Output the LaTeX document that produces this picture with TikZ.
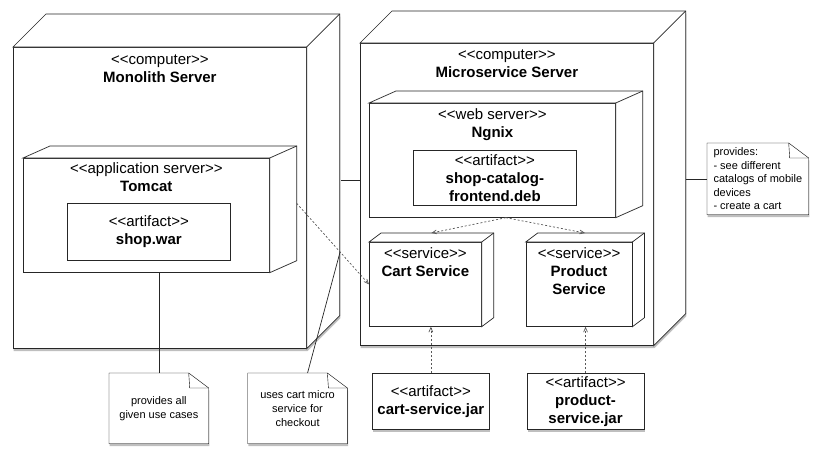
\documentclass[tikz,border=0pt]{standalone}
\usepackage{fontspec}
\newfontfamily\umlfont{Liberation Sans}
\usetikzlibrary{arrows,calc,shadows,backgrounds,positioning}

\newcommand\st[1]{<<#1>>}

\tikzset{
  front/.style={draw, fill=white, anchor=north west, inner sep=0pt},
  title/.style={anchor=north, align=center, inner sep=0pt, font=\umlfont\fontsize{15}{18}\selectfont},
  artifact/.style={draw, fill=white, anchor=north west, inner sep=0pt, align=center,
    font=\umlfont\fontsize{15}{18}\selectfont},
  note/.style={anchor=north west, inner sep=0pt, align=center, font=\umlfont\fontsize{11}{14}\selectfont},
  castshadow/.style={drop shadow={shadow xshift=0.6pt, shadow yshift=-2.5pt, opacity=0.5}},
  depends/.style={->, gray!70!black, dash pattern=on 2pt off 2pt},
}

% top and right face of a node box
\newcommand\cubeside[3]{
  \begin{scope}[on background layer]
    \fill[white, castshadow] (#1.south west) -- (#1.north west) -- ++(#2,#3)
      -- ([shift={(#2,#3)}]#1.north east) -- ([shift={(#2,#3)}]#1.south east) -- (#1.south east) -- cycle;
  \end{scope}
  \filldraw[fill=white] (#1.north west) -- ++(#2,#3) -- ([shift={(#2,#3)}]#1.north east)
    -- ([shift={(#2,#3)}]#1.south east) -- (#1.south east) -- (#1.north east) -- cycle;
  \draw (#1.north east) -- ++(#2,#3);
}

% note outline with folded corner
\newcommand\notefold[1]{
  \begin{scope}[on background layer]
    \filldraw[fill=white, castshadow] (#1.south west) -- (#1.north west) -- ([xshift=-20pt]#1.north east)
      -- ([yshift=-15pt]#1.north east) -- (#1.south east) -- cycle;
    \draw ([xshift=-20pt]#1.north east) -- ([xshift=-19pt,yshift=-15pt]#1.north east) -- ([yshift=-15pt]#1.north east);
  \end{scope}
}

\begin{document}
\begin{tikzpicture}[x=1pt, y=-1pt, line width=0.7pt, >=angle 45, draw=black!85]

\useasboundingbox (0,0) rectangle (820,458);

% monolith
\node [front, minimum width=293, minimum height=301,
       label={[title, yshift=-7pt]north:{\st{computer}\\\textbf{Monolith Server}}}] (mono) at (13,47) {};
\cubeside{mono}{33}{-33}
\node [front, minimum width=246, minimum height=114,
       label={[title, yshift=-4pt]north:{\st{application server}\\\textbf{Tomcat}}}] (tomcat) at (23,158) {};
\cubeside{tomcat}{27}{-12}
\node [artifact, minimum width=163, minimum height=57] (shopwar) at (67,203) {\st{artifact}\\\textbf{shop.war}};

% microservices
\node [front, minimum width=293, minimum height=302,
       label={[title, yshift=-6pt]north:{\st{computer}\\\textbf{Microservice Server}}}] (micro) at (360,43) {};
\cubeside{micro}{32}{-32}
\node [front, minimum width=246, minimum height=114,
       label={[title, yshift=-5pt]north:{\st{web server}\\\textbf{Ngnix}}}] (ngnix) at (369,103) {};
\cubeside{ngnix}{27}{-12}
\node [artifact, minimum width=163, minimum height=55] (catalog) at (413,150) {\st{artifact}\\\textbf{shop-catalog-}\\\textbf{frontend.deb}};
\node [front, minimum width=112, minimum height=84,
       label={[title, yshift=-5pt]north:{\st{service}\\\textbf{Cart Service}}}] (cart) at (369,242) {};
\cubeside{cart}{12}{-9}
\node [front, minimum width=106, minimum height=84, right=44pt of cart,
       label={[title, yshift=-5pt]north:{\st{service}\\\textbf{Product}\\\textbf{Service}}}] (product) {};
\cubeside{product}{12}{-9}

% jars
\node [artifact, castshadow, minimum width=117, minimum height=56] (cartjar) at (372,373) {\st{artifact}\\\textbf{cart-service.jar}};
\node [artifact, castshadow, minimum width=117, minimum height=56, right=37pt of cartjar] (prodjar) {\st{artifact}\\\textbf{product-}\\\textbf{service.jar}};

% notes
\node [note, minimum width=99, minimum height=70] (provall) at (109,373) {provides all\\given use cases};
\notefold{provall}
\node [note, minimum width=99, minimum height=70, right=39pt of provall] (usecart) {uses cart micro\\service for\\checkout};
\notefold{usecart}
\node [note, align=left, minimum width=101, minimum height=71, font=\umlfont\fontsize{11}{13.5}\selectfont] (provnote) at (707,143)
  {provides:\\- see different\\catalogs of mobile\\devices\\- create a cart};
\notefold{provnote}

\coordinate (monoback) at ([xshift=34pt]mono.east);
\coordinate (microback) at ([xshift=32pt]micro.east);

\draw ([yshift=14pt]micro.west) -- ([yshift=14pt]micro.west -| monoback);
\draw (provnote.west) -- (provnote.west -| microback);

\draw [depends] ([xshift=13.5pt]ngnix.south) -- ([shift={(6,-9)}]cart.north);
\draw [depends] ([xshift=13.5pt]ngnix.south) -- ([shift={(6,-9)}]product.north);
\draw [depends] ([shift={(27,-12)}]tomcat.east) -- coordinate[pos=0.6] (usemid) (cart.west);
\draw [depends] (cartjar.north) -- (cartjar.north |- cart.south);
\draw [depends] (prodjar.north) -- (prodjar.north |- product.south);

\draw (provall.north) -- (provall.north |- tomcat.south);
\draw ([xshift=10pt]usecart.north) -- (usemid);

\end{tikzpicture}
\end{document}
